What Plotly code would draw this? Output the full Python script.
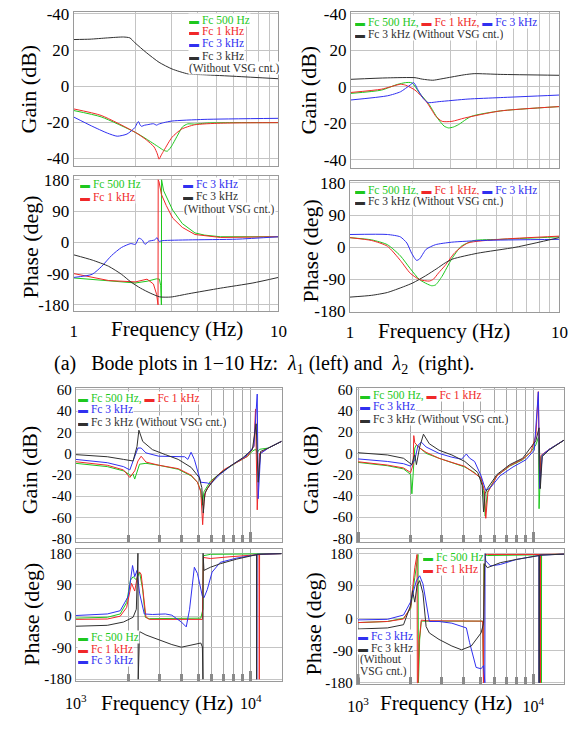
import math
import plotly.graph_objects as go

W, H = 581, 730
FONT = "Times New Roman"

GREEN = "#1ec81e"
RED = "#f02828"
BLUE = "#3030f0"
BLACK = "#303030"

# ---------------- (a) 1-10 Hz : lambda1 gain ----------------
A_green_f = [1.0, 1.36, 2.0, 2.26, 2.6, 2.75, 2.86, 2.95, 3.02, 3.24, 3.4, 3.6, 3.9, 4.5, 6.2, 10]
A_green_v = [-13.5, -17.0, -25.6, -29.2, -33.7, -35.5, -36.0, -34.5, -32.8, -26.5, -22.5, -20.9, -21.0, -20.4, -20.2, -20.2]
A_red_f = [1.0, 1.36, 2.0, 2.26, 2.47, 2.56, 2.61, 2.68, 2.76, 3.02, 3.36, 3.89, 5.2, 10]
A_red_v = [-12.6, -16.2, -25.6, -29.7, -33.7, -37.5, -40.4, -38.0, -35.5, -28.3, -23.8, -21.4, -20.5, -20.2]
A_blue_f = [1.0, 1.22, 1.46, 1.63, 1.82, 1.99, 2.04, 2.07, 2.11, 2.14, 2.22, 2.3, 2.45, 2.54, 2.6, 2.75, 3.02, 4.33, 10]
A_blue_v = [-17.1, -22.0, -26.0, -27.7, -26.5, -22.9, -20.5, -19.6, -21.5, -22.2, -21.6, -21.3, -20.8, -21.6, -21.0, -20.2, -19.3, -18.4, -17.8]
A_black_f = [1.0, 1.2, 1.46, 1.75, 1.88, 1.99, 2.26, 2.61, 3.02, 3.61, 4.33, 6.22, 10]
A_black_v = [25.8, 26.0, 26.7, 27.2, 26.7, 24.0, 18.6, 13.2, 9.5, 6.8, 6.3, 5.4, 4.1]

# ---------------- (a) 1-10 Hz : lambda2 gain ----------------
B_green_f = [1.0, 1.4, 1.67, 1.83, 1.96, 2.14, 2.38, 2.6, 2.8, 2.94, 3.1, 3.28, 3.77, 5.2, 10]
B_green_v = [-3.6, -1.8, 1.3, 2.3, 2.2, -3.6, -9.9, -17.1, -21.5, -22.5, -22.0, -20.7, -16.2, -13.2, -10.8]
B_red_f = [1.0, 1.4, 1.73, 1.83, 2.03, 2.3, 2.56, 2.74, 3.05, 3.5, 5.2, 10]
B_red_v = [-3.1, -1.3, 1.4, 0.9, -1.8, -8.1, -16.2, -18.9, -18.9, -17.1, -13.2, -10.8]
B_blue_f = [1.0, 1.5, 1.73, 1.92, 2.0, 2.1, 2.22, 2.34, 2.65, 3.64, 5.2, 10]
B_blue_v = [-7.2, -4.9, -2.7, 0.9, 2.3, -1.8, -6.3, -8.6, -8.1, -6.7, -5.9, -4.5]
B_black_f = [1.0, 1.5, 2.03, 2.2, 2.47, 2.7, 3.05, 3.5, 3.9, 5.2, 10]
B_black_v = [4.1, 4.9, 5.0, 4.2, 3.6, 4.3, 5.4, 6.6, 7.2, 6.8, 6.3]

# ---------------- (a) 1-10 Hz : lambda1 phase ----------------
C_green_f = [1.0, 1.48, 2.0, 2.28, 2.54, 2.62, 2.66, 2.68, 2.685, 2.75, 2.83, 3.04, 3.39, 3.91, 4.36, 5.2, 10]
C_green_v = [-102.6, -111.6, -117, -112, -105, -106, -125, -180, 180, 148, 133, 93, 54, 27, 20.7, 16, 16]
C_red_f = [1.0, 1.48, 2.0, 2.28, 2.45, 2.54, 2.58, 2.585, 2.61, 2.68, 2.83, 3.04, 3.39, 3.91, 5.2, 10]
C_red_v = [-90, -110, -114, -106, -120, -150, -180, 180, 174, 138, 106, 70, 43, 22.5, 14, 16]
C_blue_f = [1.0, 1.23, 1.37, 1.53, 1.71, 1.9, 2.0, 2.08, 2.16, 2.23, 2.32, 2.49, 2.55, 2.61, 2.73, 3.64, 6.25, 10]
C_blue_v = [-101, -92, -69, -38, -15, -3.6, -6, 12, 7, -6, 3, 7, 13.5, 3, 5, 7, 9, 16]
C_black_f = [1.0, 1.23, 1.48, 1.71, 1.9, 2.12, 2.36, 2.63, 2.98, 3.64, 5.2, 7.5, 10]
C_black_v = [-36, -51, -69, -92, -114, -132, -146, -157, -157.5, -148, -132, -117, -101]

# ---------------- (a) 1-10 Hz : lambda2 phase ----------------
D_green_f = [1.0, 1.27, 1.51, 1.74, 1.94, 2.15, 2.45, 2.56, 2.75, 3.06, 3.4, 3.92, 5.2, 10]
D_green_v = [26.7, 20.5, 7, -24, -60, -91, -108, -106, -82, -33, 2.7, 18.7, 22, 29]
D_red_f = [1.0, 1.27, 1.51, 1.74, 1.94, 2.15, 2.39, 2.5, 2.65, 2.85, 3.17, 3.65, 5.2, 10]
D_red_v = [26.7, 18.7, 2.7, -37, -73, -91, -95, -90, -72, -51, -15, 11.6, 22, 31]
D_blue_f = [1.0, 1.51, 1.74, 1.87, 1.97, 2.08, 2.15, 2.31, 2.56, 3.06, 4.36, 10]
D_blue_v = [35.6, 35.6, 29, 11.6, -17, -37, -33, -6, 7, 14, 19, 22]
D_black_f = [1.0, 1.27, 1.51, 1.8, 2.0, 2.3, 2.6, 2.85, 3.1, 4.06, 6.2, 10]
D_black_v = [-140, -135, -127, -111, -100, -80, -60, -44, -33, -17, 0, 27]

# ---------------- (b) 1k-15k Hz : lambda1 gain ----------------
E_green_f = [1000, 1515, 1874, 2038, 2055, 2127, 2173, 2267, 2316, 2520, 2984, 3850, 4560, 4960, 5180, 5290, 5400, 5880, 6980, 8260, 9590, 10200, 10640, 10880, 11210, 12600, 14950]
E_green_v = [-9.2, -12.3, -16.3, -20, -21.5, -19.4, -24, -15, -10, -9.2, -11, -14.8, -21, -27, -35, -48.6, -36, -26, -16.3, -8.6, -2.5, 2.2, 4, 1, 4, 5.2, 11.4]
E_red_f = [1000, 1515, 1874, 2038, 2173, 2267, 2365, 2520, 2984, 3850, 4560, 4960, 5180, 5310, 5400, 5520, 6010, 6980, 8260, 9590, 10410, 10640, 10880, 11210, 12600, 14950]
E_red_v = [-7.7, -11, -15.4, -22.5, -16.3, -7, -2.5, -8, -11, -14.2, -20.3, -27, -36, -67, -45, -36, -25.5, -15.4, -8.6, -2.5, 6.8, 42, -53, 0, 5.2, 11.4]
E_blue_f = [1000, 1515, 1874, 2038, 2127, 2267, 2365, 2520, 2984, 3540, 4190, 4370, 4560, 4760, 5180, 5640, 5880, 6690, 7920, 9380, 10410, 10880, 11020, 11370, 12600, 14950]
E_blue_v = [-5.5, -8.6, -12.3, -15.4, -7, 5.2, 5.2, 0.6, -2.5, -3, -3, -5.5, 1.2, -5.5, -27, -27.7, -28.6, -19.4, -10, -2.5, 6.8, 56, -42.5, 0, 5.2, 11.4]
E_black_f = [1000, 1515, 1874, 2127, 2240, 2296, 2415, 2743, 3250, 3850, 4560, 5070, 5250, 5355, 5460, 5640, 6410, 7600, 8990, 10200, 10730, 11020, 11370, 12600, 14950]
E_black_v = [-1, -3, -5.5, -7, 6.8, 22, 11.4, 3.7, -1, -5.5, -13, -22.5, -32, -56, -38, -33, -21, -12, -4, 3.7, 28, -27, 2, 5.2, 11.4]

# ---------------- (b) 1k-15k Hz : lambda2 gain ----------------
F_green_f = [1000, 1470, 1816, 1994, 2027, 2061, 2106, 2151, 2245, 2443, 2894, 3427, 4060, 4618, 5027, 5200, 5307, 5458, 6200, 7325, 8686, 9686, 10330, 10670, 10770, 11040, 12250, 15080]
F_green_v = [-8.5, -11.6, -14.6, -19.8, -38, -20, 5, 8, 5, 0, -4.6, -8.5, -12.8, -18, -24, -35, -59, -36.5, -21, -12, -6, 1.5, 8, 15, -52, -3, 3.6, 12.8]
F_red_f = [1000, 1470, 1816, 1994, 2061, 2078, 2106, 2151, 2245, 2443, 2894, 3427, 4060, 5027, 5250, 5350, 5504, 6200, 7325, 8686, 9686, 10330, 10670, 10860, 11040, 12250, 15080]
F_red_v = [-7.9, -11, -13.7, -18, -10, 16.7, 10, 8, 5, 1, -4.6, -8.5, -12.2, -23, -35, -61, -36.5, -21, -11.6, -5.5, 1.5, 17, 58, -33, -2, 3.6, 12.8]
F_blue_f = [1000, 1470, 1816, 1994, 2106, 2197, 2294, 2443, 2894, 3427, 3892, 4147, 4326, 4618, 5027, 5350, 5698, 6467, 7644, 9064, 10110, 10670, 10860, 11230, 12250, 15080]
F_blue_v = [-5.2, -7.6, -9.7, -12, -6, 7.6, 10.6, 6, 0, -3.6, -5.5, -0.6, -4.5, -7.6, -21, -35, -32, -21, -12.8, -6, 3, 57.8, -33, -1.5, 3.6, 12.8]
F_black_f = [1000, 1470, 1816, 2027, 2090, 2106, 2151, 2245, 2360, 2550, 2894, 3427, 4060, 4818, 5100, 5197, 5300, 5458, 6200, 7325, 8686, 10330, 10770, 10950, 11230, 12250, 15080]
F_black_v = [0.6, -1.5, -4.6, -10.6, -2, -1.5, -10.6, 6, 18, 9, 3, -1.5, -7.6, -18, -30, -55, -38, -33, -19.8, -10.6, -4.6, 12, 24, -33, -3, 3, 12.8]

# ---------------- (b) 1k-15k Hz : lambda1 phase ----------------
G_green_f = [1000, 1515, 1795, 1954, 2055, 2127, 2220, 2316, 2415, 2497, 2630, 3540, 5180, 5330, 5355, 5880, 8260, 10640, 14950]
G_green_v = [-5.5, -3, 6.5, 39, 103, 113, 104, 126, 76, -3, -7, -7, -5.5, 20, 173, 177, 178, 179, 179]
G_red_f = [1000, 1515, 1795, 1954, 2083, 2173, 2267, 2316, 2365, 2437, 2520, 2630, 3540, 5290, 5355, 5880, 7600, 10640, 11140, 11160, 11200, 11220, 14950]
G_red_v = [-9, -8, 0, 25, 94, 72, 122, 126, 120, 66, -3, -9, -9, -9, 168, 165, 170, 174, 176, -180, -180, 177, 179]
G_blue_f = [1000, 1515, 1795, 1996, 2112, 2173, 2240, 2316, 2464, 2743, 3250, 3540, 4015, 4280, 4470, 4760, 4960, 5290, 5400, 5640, 6010, 6690, 8260, 10640, 10800, 10810, 10830, 10840, 14950]
G_blue_v = [2, 6.5, 15.7, 57, 145, 113, 131, 66, 6.5, 5, 6.5, 3, -16.6, -30.5, 20, 140, 122, 57, 52.6, 76, 126, 154, 166, 175, 176, -180, -180, 177, 179]
G_black_f = [1000, 1515, 1874, 2127, 2220, 2267, 2275, 2316, 2520, 2984, 3540, 4015, 4760, 5180, 5290, 5330, 5340, 5400, 5880, 6690, 8260, 10640, 10780, 10790, 10810, 10820, 14950]
G_black_v = [-28.6, -26, -16.6, -3, 20, 180, -180, -44, -53.6, -67, -81, -88.6, -81, -76.6, -88, -180, 180, 131, 140, 150, 163, 174, 176, -180, -180, 177, 179]

# ---------------- (b) 1k-15k Hz : lambda2 phase ----------------
H_green_f = [1000, 1470, 1816, 1994, 2106, 2197, 2210, 2245, 2294, 2443, 3427, 5027, 5134, 5197, 5210, 5458, 7983, 9895, 11090, 11100, 11118, 11130, 15080]
H_green_v = [-12, -9, 0, 27, 114, 178, -180, -60, -8, -8, -7, -8, -8, -180, 178, 175, 176, 177, 177, -180, -180, 177, 179]
H_red_f = [1000, 1470, 1816, 1994, 2106, 2169, 2178, 2197, 2226, 2294, 2443, 3427, 5027, 5134, 5190, 5240, 5458, 7983, 9895, 10950, 10960, 10980, 15080]
H_red_v = [-12, -9, -2, 30, 141, 178, -180, -180, -68, -5, -7, -7, -8, -8, -180, 178, 178, 178, 178, 178, -180, 178, 179]
H_blue_f = [1000, 1470, 1816, 1994, 2151, 2245, 2344, 2443, 2550, 2894, 3427, 4147, 4326, 4710, 5027, 5197, 5285, 5300, 5350, 5698, 6467, 7983, 9895, 10770, 10780, 10800, 10810, 15080]
H_blue_v = [-4.6, -3, 9, 45.6, 105, 118.5, 96, 41, -9, -9, -13.7, -27, -68, -137, -141, -132, -180, 180, 160, 146, 150, 164, 173, 175, -180, -180, 176, 179]
H_black_f = [1000, 1470, 1816, 1994, 2044, 2106, 2169, 2245, 2344, 2443, 2550, 2894, 3427, 3892, 4420, 5027, 5197, 5285, 5300, 5458, 6467, 7983, 9895, 10770, 10780, 10800, 10810, 15080]
H_black_v = [-30, -27, -18, 36.5, 77, 45, 91, 105, 70, -23, -41, -59, -77.5, -88, -77.5, -41, -14, 180, 150, 141, 155, 164, 172, 175, -180, -180, 176, 179]

# tick definitions
LOW_MAJOR = [1, 10]
LOW_MINOR = [2, 3, 4, 5, 6, 7, 8, 9]
HIGH_MAJOR = [1000, 10000]
HIGH_MINOR = [2000, 3000, 4000, 5000, 6000, 7000, 8000, 9000]
LOW_LABELS = ["1", "10"]
HIGH_LABELS = ["10<sup>3</sup>", "10<sup>4</sup>"]
GAIN_LOW_TICKS = [40, 20, 0, -20, -40]
GAIN_LOW_TEXT = ["-40", "20", "0", "-20", "-40"]
GAIN_HIGH_TICKS = [60, 40, 20, 0, -20, -40, -60, -80]
GAIN_HIGH_TEXT = ["60", "40", "20", "0", "-20", "-40", "-60", "-80"]
PHASE_TICKS = [180, 90, 0, -90, -180]
PHASE_TEXT = ["180", "90", "0", "-90", "-180"]

# highlight boxes: (panel, color, f0, f1, v0, v1)
BOXES = [
    ("A", "#7030a0", 1.35, 2.01, -32.8, 28.5),
    ("A", "#ffc000", 2.14, 3.19, -42.0, -9.0),
    ("B", "#7030a0", 1.70, 2.36, -14.0, 13.0),
    ("B", "#ffc000", 2.49, 3.52, -28.0, -10.5),
    ("E", "#70ad47", 1664, 3065, -32.6, 23.7),
    ("E", "#ed7d31", 4140, 6270, -71.7, 12.0),
    ("E", "#22e0ff", 9200, 12500, -61.0, 57.5),
    ("F", "#70ad47", 1670, 2890, -40.0, 25.0),
    ("F", "#ed7d31", 3840, 6280, -66.0, 9.7),
    ("F", "#22e0ff", 9350, 12900, -57.0, 60.8),
]

# panel layout in pixels: left, right, top, bottom
PANELS = {
    "A": dict(i=1, px=(65, 277), py=(5, 163), xr=(0, 1), yr=(-44.3, 41.1), low=True, kind="gl", lab=False),
    "B": dict(i=2, px=(352, 568), py=(5, 165), xr=(0, 1), yr=(-44.5, 41.0), low=True, kind="gl", lab=False),
    "C": dict(i=3, px=(65, 277), py=(173, 311), xr=(0, 1), yr=(-197, 191), low=True, kind="p", lab=True),
    "D": dict(i=4, px=(351, 568), py=(178, 312), xr=(0, 1), yr=(-181, 186), low=True, kind="p", lab=True),
    "E": dict(i=5, px=(67, 281), py=(390, 548), xr=(3, 4.18), yr=(-83.5, 61.8), low=False, kind="gh", lab=False),
    "F": dict(i=6, px=(358, 573), py=(390, 548), xr=(2.992, 4.176), yr=(-83.5, 61.5), low=False, kind="gh", lab=False),
    "G": dict(i=7, px=(67, 281), py=(555, 690), xr=(3, 4.18), yr=(-185, 192), low=False, kind="p", lab=True),
    "H": dict(i=8, px=(358, 573), py=(555, 693), xr=(2.992, 4.176), yr=(-183, 193), low=False, kind="p", lab=True),
}

SERIES = {
    "A": [(A_green_f, A_green_v, GREEN, True), (A_red_f, A_red_v, RED, True), (A_blue_f, A_blue_v, BLUE, True), (A_black_f, A_black_v, BLACK, True)],
    "B": [(B_green_f, B_green_v, GREEN, True), (B_red_f, B_red_v, RED, True), (B_blue_f, B_blue_v, BLUE, True), (B_black_f, B_black_v, BLACK, True)],
    "C": [(C_green_f, C_green_v, GREEN, False), (C_red_f, C_red_v, RED, False), (C_blue_f, C_blue_v, BLUE, True), (C_black_f, C_black_v, BLACK, True)],
    "D": [(D_green_f, D_green_v, GREEN, True), (D_red_f, D_red_v, RED, True), (D_blue_f, D_blue_v, BLUE, True), (D_black_f, D_black_v, BLACK, True)],
    "E": [(E_green_f, E_green_v, GREEN, False), (E_red_f, E_red_v, RED, False), (E_blue_f, E_blue_v, BLUE, False), (E_black_f, E_black_v, BLACK, False)],
    "F": [(F_green_f, F_green_v, GREEN, False), (F_red_f, F_red_v, RED, False), (F_blue_f, F_blue_v, BLUE, False), (F_black_f, F_black_v, BLACK, False)],
    "G": [(G_green_f, G_green_v, GREEN, False), (G_red_f, G_red_v, RED, False), (G_blue_f, G_blue_v, BLUE, False), (G_black_f, G_black_v, BLACK, False)],
    "H": [(H_green_f, H_green_v, GREEN, False), (H_red_f, H_red_v, RED, False), (H_blue_f, H_blue_v, BLUE, False), (H_black_f, H_black_v, BLACK, False)],
}


def xn(px):
    return px / W


def yn(py):
    return 1 - py / H


fig = go.Figure()
layout = {}
shapes = []
annotations = []

for name, p in PANELS.items():
    i = p["i"]
    xa = "xaxis" if i == 1 else f"xaxis{i}"
    ya = "yaxis" if i == 1 else f"yaxis{i}"
    xref = "x" if i == 1 else f"x{i}"
    yref = "y" if i == 1 else f"y{i}"
    for f, v, c, smooth in SERIES[name]:
        line = dict(color=c, width=1)
        if smooth:
            line.update(shape="spline", smoothing=0.6)
        fig.add_trace(go.Scatter(x=f, y=v, mode="lines", line=line, xaxis=xref, yaxis=yref,
                                 showlegend=False, hoverinfo="skip"))
    if p["low"]:
        xcfg = dict(tickvals=LOW_MAJOR, ticktext=LOW_LABELS, ticks="", gridcolor="#c4c4c4",
                    minor=dict(tickvals=LOW_MINOR, showgrid=True, gridcolor="#c4c4c4", gridwidth=1, ticks=""),
                    ticklabelstandoff=5)
    else:
        xcfg = dict(tickvals=HIGH_MAJOR, ticktext=HIGH_LABELS, ticks="inside", ticklen=10, tickwidth=3,
                    tickcolor="#8a8a8a", gridcolor="#a8a8a8",
                    minor=dict(tickvals=HIGH_MINOR, showgrid=True, gridcolor="#a8a8a8", gridwidth=1,
                               ticks="inside", ticklen=7, tickwidth=3, tickcolor="#8a8a8a"),
                    ticklabelstandoff=8)
    layout[xa] = dict(
        type="log", domain=[xn(p["px"][0]), xn(p["px"][1])], range=list(p["xr"]), anchor=yref,
        showgrid=True, gridwidth=1, showline=True, mirror=True, showticklabels=p["lab"],
        linecolor="#9a9a9a", linewidth=1, zeroline=False,
        tickfont=dict(family=FONT, size=17 if p["low"] else 16, color="black"), **xcfg)
    if p["kind"] == "gl":
        ytv, ytt = GAIN_LOW_TICKS, GAIN_LOW_TEXT
    elif p["kind"] == "gh":
        ytv, ytt = GAIN_HIGH_TICKS, GAIN_HIGH_TEXT
    else:
        ytv, ytt = PHASE_TICKS, PHASE_TEXT
    layout[ya] = dict(
        domain=[yn(p["py"][1]), yn(p["py"][0])], range=list(p["yr"]), anchor=xref,
        tickvals=ytv, ticktext=ytt, showgrid=True, gridcolor="#c4c4c4", gridwidth=1,
        showline=True, mirror=True, linecolor="#9a9a9a", linewidth=1, zeroline=False, ticks="",
        tickfont=dict(family=FONT, size=17 if p["low"] else 15, color="black"))

for panel, color, f0, f1, v0, v1 in BOXES:
    i = PANELS[panel]["i"]
    xref = "x" if i == 1 else f"x{i}"
    yref = "y" if i == 1 else f"y{i}"
    shapes.append(dict(type="rect", xref=xref, yref=yref, x0=math.log10(f0), x1=math.log10(f1),
                       y0=v0, y1=v1, line=dict(color=color, width=2, dash="3px,2px"),
                       fillcolor="rgba(0,0,0,0)"))


def mk(color, label):
    return (f"<span style='color:{color};font-size:10px'>▬</span>"
            f"<span style='color:{color}'>\u00a0{label}</span>")


def leg(px, py, parts):
    txt = "\u00a0".join(mk(c, l) for c, l in parts)
    annotations.append(dict(x=xn(px), y=yn(py), xref="paper", yref="paper", text=txt,
                            showarrow=False, xanchor="left", yanchor="middle", height=12,
                            font=dict(family=FONT, size=11.5, color=BLACK),
                            bgcolor="white", borderpad=0))


def plain(px, py, text, color=BLACK):
    annotations.append(dict(x=xn(px), y=yn(py), xref="paper", yref="paper", text=text,
                            showarrow=False, xanchor="left", yanchor="middle", height=12,
                            font=dict(family=FONT, size=11.5, color=color),
                            bgcolor="white", borderpad=0))


# legends
leg(183, 13, [(GREEN, "Fc 500 Hz")])
leg(183, 25, [(RED, "Fc 1 kHz")])
leg(183, 37, [(BLUE, "Fc 3 kHz")])
leg(183, 50, [(BLACK, "Fc 3 kHz")])
plain(183, 62, "(Without VSG cnt.)")

leg(355, 15, [(GREEN, "Fc 500 Hz,"), (RED, "Fc 1 kHz,"), (BLUE, "Fc 3 kHz")])
leg(355, 28, [(BLACK, "Fc 3 kHz (Without VSG cnt.)")])

leg(70, 181, [(GREEN, "Fc 500 Hz")])
leg(70, 195, [(RED, "Fc 1 kHz")])
leg(177, 181, [(BLUE, "Fc 3 kHz")])
leg(177, 194, [(BLACK, "Fc 3 kHz")])
plain(178, 207, "(Without VSG cnt.)")

leg(355, 187, [(GREEN, "Fc 500 Hz,"), (RED, "Fc 1 kHz,"), (BLUE, "Fc 3 kHz")])
leg(355, 199, [(BLACK, "Fc 3 kHz (Without VSG cnt.)")])

leg(68, 400, [(GREEN, "Fc 500 Hz,"), (RED, "Fc 1 kHz")])
leg(68, 412, [(BLUE, "Fc 3 kHz")])
leg(68, 425, [(BLACK, "Fc 3 kHz (Without VSG cnt.)")])

leg(360, 397, [(GREEN, "Fc 500 Hz,"), (RED, "Fc 1 kHz")])
leg(360, 409, [(BLUE, "Fc 3 kHz")])
leg(360, 422, [(BLACK, "Fc 3 kHz (Without VSG cnt.)")])

leg(68, 645, [(GREEN, "Fc 500 Hz")])
leg(68, 657, [(RED, "Fc 1 kHz")])
leg(68, 669, [(BLUE, "Fc 3 kHz")])

leg(426, 563, [(GREEN, "Fc 500 Hz")])
leg(426, 575, [(RED, "Fc 1 kHz")])
leg(358, 644, [(BLUE, "Fc 3 kHz")])
leg(358, 656, [(BLACK, "Fc 3 kHz")])
plain(360, 668, "(Without")
plain(360, 680, "VSG cnt.)")


# axis titles
def title(px, py, text, angle=-90, size=22):
    annotations.append(dict(x=xn(px), y=yn(py), xref="paper", yref="paper", text=text,
                            showarrow=False, xanchor="center", yanchor="middle", textangle=angle,
                            font=dict(family=FONT, size=size, color="black")))


title(18, 84, "Gain (dB)")
title(308, 85, "Gain (dB)")
title(20, 246, "Phase (deg)")
title(310, 250, "Phase (deg)")
title(20, 474, "Gain (dB)")
title(311, 474, "Gain (dB)")
title(21, 622, "Phase (deg)")
title(313, 632, "Phase (deg)")
title(172, 330, "Frequency (Hz)", angle=0, size=21)
title(448, 332, "Frequency (Hz)", angle=0, size=21)
title(162, 713, "Frequency (Hz)", angle=0, size=21)
title(450, 713, "Frequency (Hz)", angle=0, size=21)

title(262, 366, "(a)\u00a0\u00a0\u00a0Bode plots in 1\u221210 Hz:\u00a0\u00a0<i>λ</i><sub>1</sub> (left) and\u00a0\u00a0<i>λ</i><sub>2</sub>\u00a0\u00a0(right).",
      angle=0, size=20)

fig.update_layout(
    width=W, height=H, margin=dict(l=0, r=0, t=0, b=0),
    paper_bgcolor="white", plot_bgcolor="white", showlegend=False,
    font=dict(family=FONT),
    shapes=shapes, annotations=annotations, **layout)

fig.write_html("out.html")
